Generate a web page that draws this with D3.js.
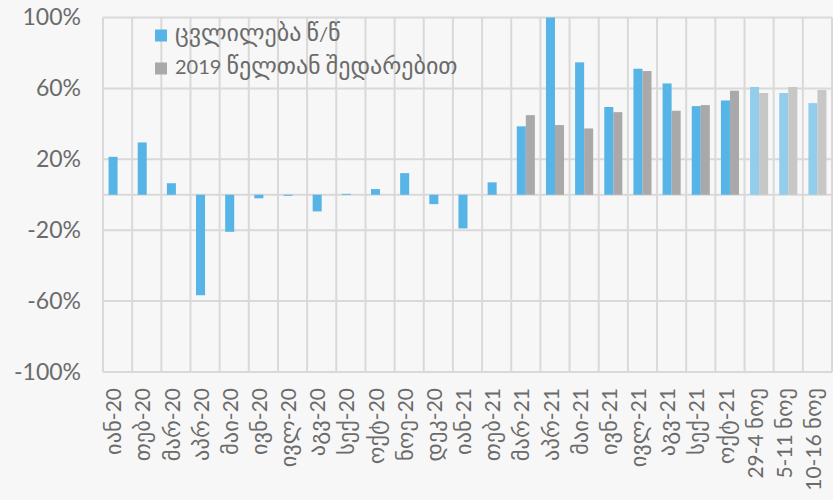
<!DOCTYPE html>
<html>
<head>
<meta charset="utf-8">
<script src="https://cdn.jsdelivr.net/npm/d3@7"></script>
<style>
  body { margin: 0; background: #f7f7f7; }
  svg text { font-family: Lato, "DejaVu Sans", sans-serif; fill: #6b6b6b; }
</style>
</head>
<body>
<div id="chart"></div>
<script>
const width = 833;
const height = 500;
const margin = { top: 17.5, right: 1, bottom: 128, left: 103 };

const months = ["იან-20", "თებ-20", "მარ-20", "აპრ-20", "მაი-20", "ივნ-20", "ივლ-20", "აგვ-20",
    "სექ-20", "ოქტ-20", "ნოე-20", "დეკ-20", "იან-21", "თებ-21", "მარ-21", "აპრ-21", "მაი-21",
    "ივნ-21", "ივლ-21", "აგვ-21", "სექ-21", "ოქტ-21", "29-4 ნოე", "5-11 ნოე", "10-16 ნოე"];

// change y/y, %
const yoy = [21.4, 29.5, 6.5, -56.7, -20.9, -2, -0.6, -9.4, 0.5, 3.2, 12.2, -5.3, -19, 7,
    38.6, 100, 74.7, 49.5, 71.1, 62.8, 50, 53.2, 60.8, 57.4, 51.7];

// compared with 2019, %
const vs2019 = [null, null, null, null, null, null, null, null, null, null, null, null, null, null,
    44.9, 39.3, 37.4, 46.6, 69.8, 47.4, 50.6, 58.7, 57.4, 60.8, 59.1];

const yTicks = [-100, -60, -20, 20, 60, 100];
const weeklyFrom = 22; // last three categories are weekly, drawn lighter

const seriesNames = ["ცვლილება წ/წ", "2019 წელთან შედარებით"];
const colors = ["#56b5e6", "#a9a9a9"];
const lightColors = ["#93cdec", "#c7c7c7"];

// DejaVu's georgian glyphs run small, so georgian runs get a bigger size
function setMixedText(sel, label, size, geoSize) {
    sel.text(null);
    label.split(/([\u10A0-\u10FF]+)/).filter(p => p.length).forEach(p => {
        sel.append("tspan")
            .style("font-size", (/[\u10A0-\u10FF]/.test(p) ? geoSize : size) + "px")
            .text(p);
    });
}

const svg = d3.select("#chart")
    .append("svg")
    .attr("width", width)
    .attr("height", height);

const innerW = width - margin.left - margin.right;
const innerH = height - margin.top - margin.bottom;

const g = svg.append("g")
    .attr("transform", `translate(${margin.left},${margin.top})`);

const x0 = d3.scaleBand().domain(months).range([0, innerW]).padding(0);
const x1 = d3.scaleBand().domain([0, 1])
    .range([x0.bandwidth() * 0.19, x0.bandwidth() * 0.81]);
const y = d3.scaleLinear().domain([-100, 100]).range([innerH, 0]);

// horizontal gridlines
g.append("g")
    .selectAll("line")
    .data(yTicks.concat([0]))
    .join("line")
    .attr("x1", 0)
    .attr("x2", innerW)
    .attr("y1", d => y(d))
    .attr("y2", d => y(d))
    .attr("stroke", "#d9d9d9")
    .attr("stroke-width", 2);

// vertical gridlines at category edges
g.append("g")
    .selectAll("line")
    .data(months.map(m => x0(m)).concat([innerW]))
    .join("line")
    .attr("x1", d => d)
    .attr("x2", d => d)
    .attr("y1", 0)
    .attr("y2", innerH)
    .attr("stroke", "#d9d9d9")
    .attr("stroke-width", 2);

// y axis labels
const yAxis = g.append("g")
    .call(d3.axisLeft(y).tickValues(yTicks).tickFormat(d => d + "%").tickSize(0).tickPadding(22));
yAxis.select(".domain").remove();
yAxis.selectAll("text").style("font-size", "23px").attr("fill", "#6b6b6b");

// x axis labels
const xAxis = g.append("g")
    .attr("transform", `translate(0,${innerH})`)
    .call(d3.axisBottom(x0).tickSize(0));
xAxis.select(".domain").remove();
xAxis.selectAll("text")
    .attr("text-anchor", "end")
    .attr("dy", "0.36em")
    .attr("transform", "translate(0,16) rotate(-90)")
    .attr("x", 0)
    .attr("y", 0)
    .each(function (d) { setMixedText(d3.select(this), d, 21, 22.5); });

// bars
const series = [yoy, vs2019];
series.forEach((values, s) => {
    g.append("g")
        .selectAll("rect")
        .data(values.map((v, i) => ({ v, i })).filter(d => d.v !== null))
        .join("rect")
        .attr("x", d => x0(months[d.i]) + x1(s))
        .attr("width", x1.bandwidth())
        .attr("y", d => y(Math.max(0, d.v)))
        .attr("height", d => Math.abs(y(d.v) - y(0)))
        .attr("fill", d => d.i >= weeklyFrom ? lightColors[s] : colors[s]);
});

// legend
const legend = g.append("g").attr("transform", "translate(52,12)");
seriesNames.forEach((name, i) => {
    const row = legend.append("g").attr("transform", `translate(0,${i * 33})`);
    row.append("rect")
        .attr("width", 12)
        .attr("height", 12)
        .attr("fill", colors[i]);
    const t = row.append("text")
        .attr("x", 20)
        .attr("y", 6)
        .attr("dy", "0.35em");
    setMixedText(t, name, 20, 24);
});
</script>
</body>
</html>
